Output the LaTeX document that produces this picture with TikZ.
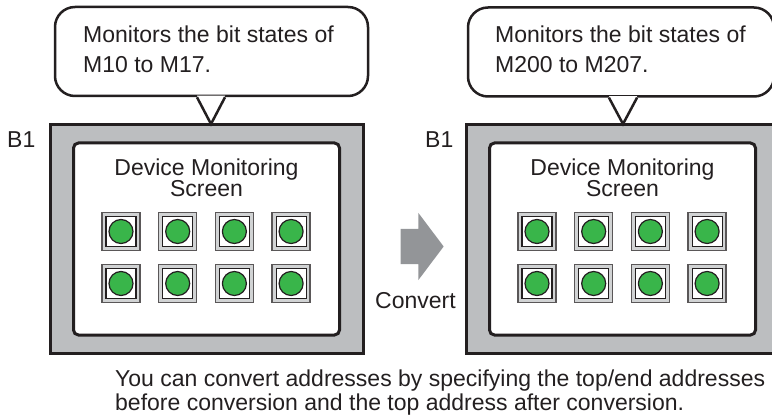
\documentclass[tikz,border=0pt]{standalone}
\usepackage{fontspec}
\setmainfont{Liberation Sans}
\usetikzlibrary{shapes.arrows, calc}
\definecolor{inkdark}{HTML}{231F20}
\definecolor{framegray}{HTML}{BCBEC0}
\definecolor{bandgray}{HTML}{D1D3D4}
\definecolor{lampgreen}{HTML}{39B54A}
\definecolor{arrowgray}{HTML}{939598}

\begin{document}
\begin{tikzpicture}[
    x=1pt, y=-1pt,
    every node/.style={font=\fontsize{23}{23}\selectfont, text=inkdark},
    txt/.style={inner sep=0, anchor=base west, align=left},
    frame/.style={draw=inkdark, line width=3pt, fill=framegray, inner sep=0,
      minimum width=313, minimum height=228},
    panel/.style={draw=inkdark, line width=3pt, fill=white, rounded corners=5pt,
      inner sep=0, minimum width=266, minimum height=192},
    bubble/.style={draw=inkdark, line width=2.5pt, fill=white, rounded corners=20pt,
      inner sep=0, minimum height=89},
    btn/.style={draw=inkdark!75, line width=1.5pt, fill=bandgray, inner sep=0,
      minimum size=38},
    btnin/.style={draw=inkdark, line width=1.2pt, fill=white, inner sep=0,
      minimum size=30},
    lamp/.style={circle, draw=inkdark, line width=1.2pt, fill=lampgreen, inner sep=0,
      minimum size=24}
  ]
  \useasboundingbox (0,0) rectangle (772,417);

  % Screens
  \node[frame] (scrA) at (206.5,239) {};
  \node[panel] (panA) at (scrA.center) {};
  \node[frame] (scrB) at (622.5,239) {};
  \node[panel] (panB) at (scrB.center) {};
  \node[txt] (bA) at (7,148) {B1};
  \node[txt] (bB) at (425,148) {B1};
  \node[align=center, inner sep=0, anchor=base, font=\fontsize{23}{21}\selectfont]
    (ttlA) at (206.5,197) {Device Monitoring\\Screen};
  \node[align=center, inner sep=0, anchor=base, font=\fontsize{23}{21}\selectfont]
    (ttlB) at (622.5,197) {Device Monitoring\\Screen};

  % Lamps
  \foreach \s/\dx in {A/0, B/416} {
    \foreach \r/\y in {1/231.5, 2/283.5} {
      \foreach \c in {0,...,3} {
        \node[btn] (\s-\r-\c) at (121+\dx+56.7*\c,\y) {};
        \node[btnin] at (\s-\r-\c) {};
        \node[lamp] at (\s-\r-\c) {};
      }
    }
  }

  % Callouts
  \node[bubble, minimum width=313] (noteA) at (211.5,51.5) {};
  \node[bubble, minimum width=306] (noteB) at (621,52) {};
  \coordinate (tipA) at (211,124);
  \coordinate (tipB) at (623,124);
  \foreach \n/\t in {noteA/tipA, noteB/tipB} {
    \fill[white] ($(\t|-\n.south)+(-14,-1.5)$) -- (\t) -- ($(\t|-\n.south)+(14,-1.5)$) -- cycle;
    \draw[inkdark, line width=2.5pt, line join=miter]
      ($(\t|-\n.south)+(-14,0)$) -- (\t) -- ($(\t|-\n.south)+(14,0)$);
  }
  \node[txt, font=\fontsize{23}{30}\selectfont] (msgA) at (83,73)
    {Monitors the bit states of\\M10 to M17.};
  \node[txt, font=\fontsize{23}{30}\selectfont] (msgB) at (495,73)
    {Monitors the bit states of\\M200 to M207.};

  % Convert arrow
  \node[single arrow, fill=arrowgray, inner xsep=0, inner ysep=17.5pt,
    single arrow tip angle=106, single arrow head extend=16pt, minimum height=43]
    (conv) at (415.5,246.5) {};
  \node[txt] (convlbl) at (375,308) {Convert};

  % Note below
  \node[txt, font=\fontsize{23}{24}\selectfont] (foot) at (115,410)
    {You can convert addresses by specifying the top/end addresses\\before conversion and the top address after conversion.};
\end{tikzpicture}
\end{document}
